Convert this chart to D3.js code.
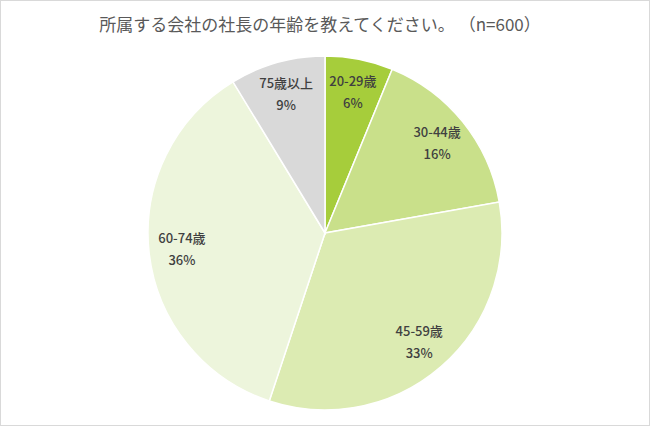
<!DOCTYPE html>
<html><head><meta charset="utf-8">
<script src="https://cdn.jsdelivr.net/npm/d3@7"></script>
<style>
html,body{margin:0;padding:0;background:#fff;}
svg{display:block;}
</style></head>
<body>
<svg id="chart" width="650" height="427"></svg>
<script>
const title = "所属する会社の社長の年齢を教えてください。 （n=600）";
const categories = ["20-29歳", "30-44歳", "45-59歳", "60-74歳", "75歳以上"];
const values = [6.2, 16.0, 32.9, 36.2, 8.7];
const percentLabels = ["6%", "16%", "33%", "36%", "9%"];
const colors = ["#a6cd3b", "#c9e08a", "#dcebb2", "#edf5dc", "#d9d9d9"];

const W = 650, H = 427;
const svg = d3.select("#chart");
svg.append("rect").attr("x",0.5).attr("y",0.5).attr("width",W-1).attr("height",H-2)
  .attr("fill","#fff").attr("stroke","#d9d9d9").attr("stroke-width",1);

svg.append("text").attr("x",320).attr("y",31).attr("text-anchor","middle")
  .attr("font-family","'Noto Sans CJK JP', sans-serif").attr("font-size",17)
  .attr("fill","#595959").text(title);

const cx = 325, cy = 233, R = 177;
const data = categories.map((c,i)=>({cat:c, v:values[i], pct:percentLabels[i], color:colors[i]}));
const pie = d3.pie().value(d=>d.v).sort(null);
const arc = d3.arc().innerRadius(0).outerRadius(R);
const LR = 144;
const labelArc = d3.arc().innerRadius(LR*2-R).outerRadius(R);
const g = svg.append("g").attr("transform",`translate(${cx},${cy})`);
const arcs = pie(data);
g.selectAll("path").data(arcs).join("path")
  .attr("d",arc).attr("fill",d=>d.data.color)
  .attr("stroke","#fff").attr("stroke-width",1.5);

const lab = g.selectAll("g.lab").data(arcs).join("g").attr("class","lab")
  .attr("transform",d=>{ const c=labelArc.centroid(d); return `translate(${c[0]},${c[1]})`; });
lab.append("text").attr("text-anchor","middle").attr("y",-6)
  .attr("font-family","'Noto Sans CJK JP', sans-serif").attr("font-size",13).attr("font-weight",500)
  .attr("fill","#404040").text(d=>d.data.cat);
lab.append("text").attr("text-anchor","middle").attr("y",16)
  .attr("font-family","'Noto Sans CJK JP', sans-serif").attr("font-size",13).attr("font-weight",500)
  .attr("fill","#404040").text(d=>d.data.pct);
</script>
</body></html>
